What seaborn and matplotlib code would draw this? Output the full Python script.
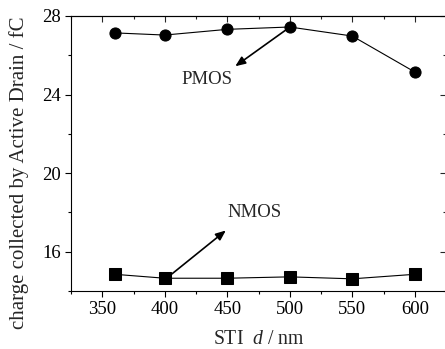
import matplotlib
matplotlib.use("Agg")
import matplotlib.pyplot as plt
from matplotlib.ticker import MultipleLocator
import seaborn as sns
import pandas as pd

sti_d = [360, 400, 450, 500, 550, 600]
pmos = [27.14, 27.03, 27.32, 27.44, 26.98, 25.15]
nmos = [14.85, 14.65, 14.65, 14.72, 14.62, 14.85]

df = pd.DataFrame({
    "d": sti_d * 2,
    "q": pmos + nmos,
    "dev": ["PMOS"] * len(sti_d) + ["NMOS"] * len(sti_d),
})

sns.set_style("ticks")
plt.rcParams["font.family"] = ["Liberation Serif", "DejaVu Serif"]
plt.rcParams["mathtext.fontset"] = "custom"
plt.rcParams["mathtext.it"] = "Liberation Serif:italic"
plt.rcParams["mathtext.rm"] = "Liberation Serif"

fig = plt.figure(figsize=(4.45, 3.49), dpi=100)
ax = fig.add_axes([71/445, 1 - 291/349, 375/445, 275/349])

sns.lineplot(data=df, x="d", y="q", hue="dev", style="dev",
             markers={"PMOS": "o", "NMOS": "s"}, dashes=False,
             palette={"PMOS": "black", "NMOS": "black"},
             markersize=8, linewidth=0.8, markeredgecolor="black",
             legend=False, ax=ax)

ax.set_xlim(325, 625)
ax.set_ylim(14, 28)
ax.xaxis.set_major_locator(MultipleLocator(50))
ax.xaxis.set_minor_locator(MultipleLocator(25))
ax.yaxis.set_major_locator(MultipleLocator(4))
ax.yaxis.set_minor_locator(MultipleLocator(2))
ax.tick_params(which="major", direction="out", length=4, width=0.8,
               labelsize=13.5, color="black", labelcolor="black", pad=3)
ax.tick_params(which="minor", direction="out", length=2.5, width=0.8, color="black")
for s in ax.spines.values():
    s.set_linewidth(0.8)
    s.set_color("black")

secx = ax.secondary_xaxis("top")
secx.xaxis.set_major_locator(MultipleLocator(50))
secx.xaxis.set_minor_locator(MultipleLocator(25))
secx.tick_params(which="major", direction="in", length=4, width=0.8, labeltop=False)
secx.tick_params(which="minor", direction="in", length=2.5, width=0.8)
secy = ax.secondary_yaxis("right")
secy.yaxis.set_major_locator(MultipleLocator(4))
secy.yaxis.set_minor_locator(MultipleLocator(2))
secy.tick_params(which="major", direction="in", length=4, width=0.8, labelright=False)
secy.tick_params(which="minor", direction="in", length=2.5, width=0.8)

ax.set_xlabel(r"STI  $d$ / nm", fontsize=14.2, labelpad=9)
ax.set_ylabel("charge collected by Active Drain / fC", fontsize=15)
ax.yaxis.set_label_coords(-0.112, 0.43)

ax.annotate("", xy=(454.6, 25.36), xytext=(500.2, 27.44),
            arrowprops=dict(arrowstyle="-|>,head_length=0.6,head_width=0.25",
                            color="black", lw=1.2))
ax.annotate("", xy=(450.6, 17.17), xytext=(404, 14.78),
            arrowprops=dict(arrowstyle="-|>,head_length=0.6,head_width=0.25",
                            color="black", lw=1.2))
ax.text(433.8, 24.75, "PMOS", fontsize=13.5, ha="center", va="center")
ax.text(472, 17.98, "NMOS", fontsize=13.5, ha="center", va="center")

fig.savefig("out.png", dpi=100)
